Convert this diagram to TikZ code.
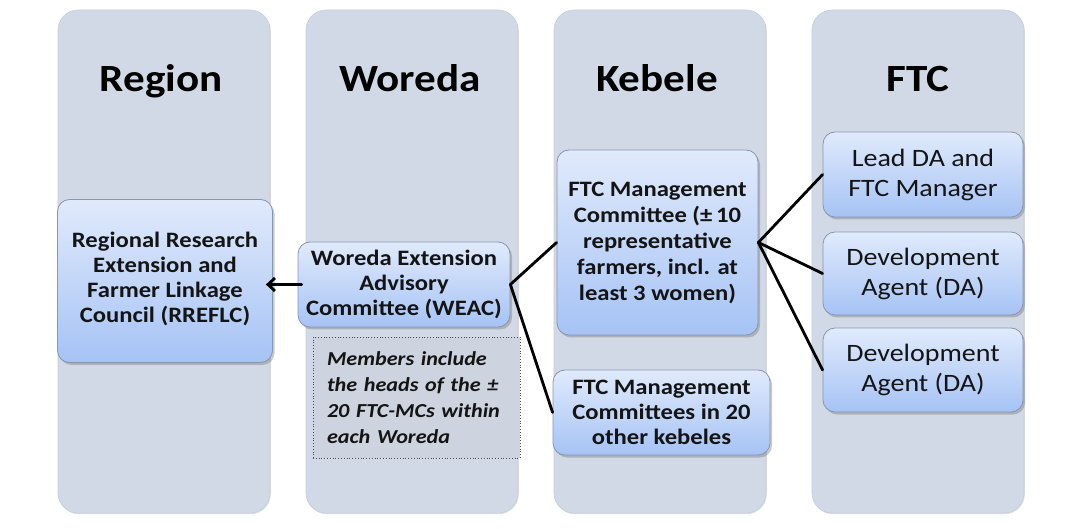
\documentclass[tikz,border=0pt]{standalone}
\usepackage{fontspec}
\newfontfamily\calfont[FakeStretch=1.12]{Carlito}
\usetikzlibrary{shadows,arrows.meta}

\definecolor{colfill}{HTML}{D2D9E6}
\definecolor{coledge}{HTML}{C4CCDB}
\definecolor{boxtop}{HTML}{E0EAFC}
\definecolor{boxbot}{HTML}{A6C3F5}
\definecolor{boxline}{HTML}{8796B0}
\definecolor{notefill}{HTML}{CDD3DF}
\definecolor{textcol}{HTML}{141414}

\begin{document}
\begin{tikzpicture}[x=1pt,y=-1pt,
  column/.style={rectangle, rounded corners=20pt, fill=colfill, draw=coledge,
    line width=0.6pt, minimum width=212pt, minimum height=503pt, inner sep=0pt,
    drop shadow={shadow xshift=0.8pt, shadow yshift=-1.2pt, opacity=0.25, fill=black!50}},
  coltitle/.style={font=\calfont\bfseries\fontsize{38.5}{44}\selectfont, text=black, anchor=base},
  unit/.style={rectangle, rounded corners=12pt, draw=boxline, line width=0.8pt,
    top color=boxtop, bottom color=boxbot, align=center, inner sep=0pt,
    font=\calfont\bfseries\fontsize{22}{25}\selectfont, text=textcol,
    drop shadow={shadow xshift=2pt, shadow yshift=-2.5pt, opacity=0.35, fill=black!60}},
  ftcunit/.style={unit, font=\calfont\fontsize{25}{30}\selectfont},
  note/.style={rectangle, fill=notefill, draw=black!70, dotted, line width=0.8pt,
    inner xsep=14pt, inner ysep=0pt, minimum width=207pt, minimum height=121pt,
    text width=179pt, align=left, text=textcol,
    font=\calfont\bfseries\itshape\fontsize{19.8}{26}\selectfont},
  link/.style={draw=black, line width=2.8pt, line cap=round},
  feed/.style={link, -{Straight Barb[length=7pt,width=13pt,line width=2.8pt]}}
]
\useasboundingbox (0,0) rectangle (1066,529);

% the four administrative levels
\node[column] (colR) at (164,261.5) {};
\node[column] (colW) at (412,261.5) {};
\node[column] (colK) at (660,261.5) {};
\node[column] (colF) at (918,261.5) {};

\node[coltitle] (tR) at (161,92) {Region};
\node[coltitle] (tW) at (410,92) {Woreda};
\node[coltitle] (tK) at (657,92) {Kebele};
\node[coltitle] (tF) at (918,92) {FTC};

% bodies at each level
\node[unit, minimum width=215pt, minimum height=163pt] (rreflc) at (165,281)
  {Regional Research\\Extension and\\Farmer Linkage\\Council (RREFLC)\\[-17pt]};
\node[unit, minimum width=212pt, minimum height=85pt] (weac) at (404,284.5)
  {Woreda Extension\\Advisory\\Committee (WEAC)};
\node[note] (members) at (416.5,397.5)
  {Members include\\the heads of the \textpm\\20 FTC-MCs within\\each Woreda};
\node[unit, minimum width=201pt, minimum height=185pt, font=\calfont\bfseries\fontsize{22}{26}\selectfont] (ftcmc) at (657.5,242.5)
  {FTC Management\\Committee (\textpm\,10\\representative\\farmers, incl. at\\least 3 women)};
\node[unit, minimum width=217pt, minimum height=85pt] (others) at (661.5,412.5)
  {FTC Management\\Committees in 20\\other kebeles};
\node[ftcunit, minimum width=200pt, minimum height=85pt] (lead) at (923,174.5)
  {Lead DA and\\FTC Manager};
\node[ftcunit, minimum width=200pt, minimum height=83pt] (da1) at (923,273.5)
  {Development\\Agent (DA)};
\node[ftcunit, minimum width=200pt, minimum height=84pt] (da2) at (923,370)
  {Development\\Agent (DA)};

% connectors
\coordinate (tip) at ([xshift=-7pt]rreflc.east);
\draw[feed] ([xshift=4pt]weac.west) -- (tip |- weac.west);
\draw[link] (weac.east) -- (ftcmc.west);
\draw[link] (weac.east) -- (others.west);
\draw[link] (ftcmc.east) -- (lead.west);
\draw[link] (ftcmc.east) -- (da1.west);
\draw[link] (ftcmc.east) -- (da2.west);
\end{tikzpicture}
\end{document}
